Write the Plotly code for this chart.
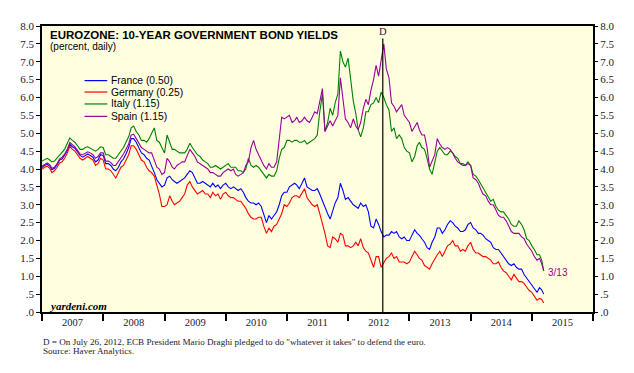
import plotly.graph_objects as go

# ---------------- data (semi-monthly readings, 1st and 16th of each month) ----------------
dates = []
for yr in range(2007, 2016):
    for mo in range(1, 13):
        if yr == 2015 and mo > 3:
            break
        dates.append(f"{yr}-{mo:02d}-01")
        dates.append("2015-03-13" if (yr == 2015 and mo == 3) else f"{yr}-{mo:02d}-16")

france = [
    4.04, 4.10, 4.13, 4.08, 3.98, 4.02, 4.12, 4.25, 4.28, 4.38, 4.52, 4.69, 4.62, 4.58, 4.48, 4.38, 4.33, 4.38, 4.42, 4.38, 4.33, 4.20, 4.25, 4.40,
    4.38, 4.15, 4.15, 4.10, 4.00, 3.95, 4.05, 4.20, 4.28, 4.42, 4.60, 4.85, 4.85, 4.75, 4.60, 4.45, 4.40, 4.30, 4.25, 4.10, 3.90, 3.70, 3.60, 3.50,
    3.55, 3.75, 3.80, 3.70, 3.65, 3.60, 3.65, 3.70, 3.75, 3.85, 3.95, 3.90, 3.75, 3.60, 3.60, 3.65, 3.60, 3.55, 3.50, 3.60, 3.50, 3.55, 3.45, 3.55,
    3.60, 3.50, 3.45, 3.50, 3.45, 3.40, 3.45, 3.35, 3.20, 3.10, 3.05, 3.05, 3.00, 3.05, 2.95, 2.75, 2.50, 2.70, 2.60, 2.70, 2.80, 3.00, 3.25, 3.35,
    3.35, 3.50, 3.55, 3.60, 3.55, 3.45, 3.60, 3.75, 3.50, 3.45, 3.40, 3.40, 3.45, 3.30, 3.10, 2.95, 2.75, 2.60, 2.80, 3.05, 3.20, 3.60, 3.40, 3.15,
    3.20, 3.10, 3.00, 2.95, 2.90, 3.05, 2.95, 3.00, 2.80, 2.40, 2.35, 2.60, 2.45, 2.25, 2.10, 2.15, 2.15, 2.25, 2.20, 2.25, 2.10, 2.05, 2.10, 2.00,
    2.00, 2.15, 2.30, 2.20, 2.15, 2.05, 1.95, 1.80, 1.75, 1.95, 2.10, 2.35, 2.35, 2.20, 2.30, 2.45, 2.55, 2.50, 2.40, 2.35, 2.25, 2.25, 2.30, 2.45,
    2.50, 2.35, 2.30, 2.20, 2.20, 2.15, 2.05, 2.00, 1.95, 1.80, 1.75, 1.75, 1.65, 1.55, 1.45, 1.35, 1.30, 1.35, 1.25, 1.20, 1.20, 1.05, 0.95, 0.85,
    0.75, 0.62, 0.55, 0.68, 0.62, 0.50,
]
germany = [
    3.99, 4.05, 4.08, 4.02, 3.90, 3.95, 4.05, 4.17, 4.20, 4.30, 4.45, 4.64, 4.55, 4.50, 4.40, 4.30, 4.25, 4.30, 4.35, 4.30, 4.25, 4.10, 4.15, 4.30,
    4.25, 4.00, 4.00, 3.95, 3.85, 3.75, 3.90, 4.05, 4.10, 4.25, 4.40, 4.65, 4.65, 4.55, 4.40, 4.25, 4.20, 4.05, 3.95, 3.90, 3.80, 3.55, 3.30, 2.95,
    2.95, 3.00, 3.25, 3.10, 3.00, 3.05, 3.10, 3.20, 3.30, 3.55, 3.65, 3.50, 3.40, 3.30, 3.35, 3.40, 3.30, 3.30, 3.20, 3.35, 3.25, 3.30, 3.15, 3.30,
    3.35, 3.25, 3.20, 3.20, 3.15, 3.10, 3.10, 3.00, 2.90, 2.75, 2.65, 2.60, 2.60, 2.65, 2.65, 2.40, 2.20, 2.35, 2.25, 2.40, 2.45, 2.60, 2.75, 3.00,
    2.95, 3.05, 3.20, 3.25, 3.25, 3.20, 3.35, 3.45, 3.20, 3.10, 3.00, 2.95, 3.00, 2.75, 2.50, 2.20, 1.85, 1.80, 2.10, 2.05, 1.95, 2.20, 2.15, 1.85,
    1.85, 1.80, 1.85, 1.95, 1.85, 2.05, 1.80, 1.70, 1.65, 1.45, 1.25, 1.55, 1.55, 1.25, 1.40, 1.50, 1.55, 1.65, 1.50, 1.55, 1.40, 1.40, 1.40, 1.35,
    1.40, 1.55, 1.70, 1.60, 1.50, 1.45, 1.30, 1.25, 1.20, 1.35, 1.50, 1.60, 1.70, 1.55, 1.70, 1.85, 1.90, 2.00, 1.85, 1.85, 1.70, 1.75, 1.70, 1.85,
    1.95, 1.75, 1.65, 1.65, 1.60, 1.55, 1.55, 1.50, 1.45, 1.35, 1.35, 1.40, 1.25, 1.15, 1.10, 1.00, 0.90, 1.05, 0.95, 0.85, 0.85, 0.80, 0.70, 0.60,
    0.55, 0.45, 0.33, 0.38, 0.35, 0.25,
]
italy = [
    4.22, 4.25, 4.30, 4.25, 4.20, 4.22, 4.30, 4.40, 4.45, 4.55, 4.72, 4.87, 4.80, 4.75, 4.65, 4.55, 4.55, 4.60, 4.62, 4.58, 4.55, 4.50, 4.55, 4.62,
    4.60, 4.40, 4.40, 4.35, 4.30, 4.30, 4.40, 4.50, 4.60, 4.75, 4.90, 5.15, 5.20, 5.05, 4.95, 4.80, 4.80, 4.75, 4.85, 5.00, 5.15, 4.80, 4.75, 4.60,
    4.45, 4.95, 4.75, 4.55, 4.55, 4.50, 4.45, 4.45, 4.45, 4.55, 4.72, 4.60, 4.50, 4.40, 4.35, 4.25, 4.20, 4.15, 4.05, 4.05, 4.10, 4.05, 4.00, 4.05,
    4.10, 4.15, 4.05, 4.05, 4.05, 3.95, 3.95, 3.90, 4.00, 4.30, 4.10, 4.05, 4.10, 4.05, 3.95, 3.85, 3.75, 3.85, 3.80, 3.80, 3.95, 4.30, 4.55, 4.60,
    4.80, 4.80, 4.75, 4.80, 4.80, 4.75, 4.75, 4.80, 4.70, 4.75, 4.80, 4.85, 4.95, 5.60, 6.10, 5.05, 5.30, 5.70, 5.50, 5.85, 6.10, 7.30, 7.00, 6.85,
    7.10, 6.50, 5.90, 5.55, 5.10, 4.90, 5.15, 5.60, 5.60, 5.80, 5.85, 6.00, 5.85, 6.15, 6.00, 5.80, 5.65, 5.05, 5.15, 4.85, 4.95, 4.85, 4.60, 4.50,
    4.45, 4.20, 4.35, 4.65, 4.75, 4.60, 4.55, 4.30, 4.00, 3.85, 4.15, 4.50, 4.60, 4.50, 4.40, 4.40, 4.50, 4.45, 4.35, 4.30, 4.15, 4.15, 4.10, 4.20,
    4.10, 3.85, 3.80, 3.70, 3.60, 3.45, 3.35, 3.25, 3.10, 3.15, 2.95, 2.85, 2.80, 2.80, 2.70, 2.60, 2.45, 2.40, 2.40, 2.55, 2.45, 2.30, 2.05, 2.00,
    1.85, 1.75, 1.60, 1.60, 1.45, 1.15,
]
spain = [
    4.08, 4.12, 4.17, 4.12, 4.02, 4.05, 4.15, 4.28, 4.33, 4.42, 4.55, 4.74, 4.68, 4.62, 4.52, 4.42, 4.40, 4.45, 4.48, 4.45, 4.40, 4.30, 4.35, 4.45,
    4.45, 4.22, 4.22, 4.18, 4.10, 4.10, 4.20, 4.32, 4.42, 4.55, 4.70, 4.95, 4.97, 4.85, 4.72, 4.60, 4.55, 4.50, 4.45, 4.45, 4.25, 4.05, 4.00, 3.85,
    3.90, 4.30, 4.20, 4.05, 4.00, 4.10, 4.15, 4.20, 4.20, 4.35, 4.55, 4.45, 4.35, 4.20, 4.15, 4.10, 4.05, 4.00, 3.90, 3.90, 3.85, 3.80, 3.80, 3.90,
    3.95, 4.00, 3.95, 4.00, 3.85, 3.80, 3.85, 3.90, 4.10, 4.20, 4.60, 4.80, 4.55, 4.40, 4.20, 4.10, 4.00, 4.15, 4.05, 4.05, 4.20, 4.90, 5.45, 5.40,
    5.45, 5.50, 5.30, 5.35, 5.45, 5.30, 5.35, 5.45, 5.35, 5.30, 5.45, 5.60, 5.55, 5.90, 6.25, 5.05, 5.20, 5.35, 5.20, 5.35, 5.50, 6.55, 6.00, 5.40,
    5.30, 5.15, 5.40, 5.20, 5.10, 5.30, 5.70, 5.95, 5.80, 6.20, 6.50, 6.90, 6.60, 7.00, 7.50, 6.80, 6.55, 5.85, 5.75, 5.60, 5.70, 5.80, 5.50, 5.40,
    5.30, 5.05, 5.20, 5.30, 5.10, 4.95, 4.95, 4.60, 4.05, 4.25, 4.40, 4.85, 4.70, 4.60, 4.55, 4.60, 4.55, 4.45, 4.30, 4.20, 4.15, 4.10, 4.10, 4.15,
    4.10, 3.75, 3.70, 3.60, 3.45, 3.30, 3.25, 3.10, 3.00, 3.00, 2.85, 2.70, 2.65, 2.65, 2.55, 2.40, 2.25, 2.20, 2.20, 2.20, 2.10, 2.05, 1.90, 1.80,
    1.70, 1.55, 1.45, 1.50, 1.35, 1.15,
]

series_names = ["France", "Germany", "Italy", "Spain"]
series_values = [france, germany, italy, spain]
series_colors = ["#0000FF", "#FF0000", "#008000", "#990099"]

y_tick_vals = [0, 0.5, 1, 1.5, 2, 2.5, 3, 3.5, 4, 4.5, 5, 5.5, 6, 6.5, 7, 7.5, 8]
y_tick_text = [".0", ".5", "1.0", "1.5", "2.0", "2.5", "3.0", "3.5", "4.0", "4.5",
               "5.0", "5.5", "6.0", "6.5", "7.0", "7.5", "8.0"]

draghi_date = "2012-07-26"
last_label = "3/13"

# ---------------- figure ----------------
# page body has an 8px default margin; plot area is placed at page x 41..598, y 24..312
BODY = 8
PAGE_L, PAGE_T, PW, PH = 41, 24, 557, 288
ML, MT = PAGE_L - BODY, PAGE_T - BODY
W, H = 618, 357
MR, MB = W - ML - PW, H - MT - PH


def px(xp):  # page x -> paper fraction
    return (xp - PAGE_L) / PW


def py(yp):  # page y -> paper fraction
    return 1 - (yp - PAGE_T) / PH


fig = go.Figure()
for name, vals, col in zip(series_names, series_values, series_colors):
    assert len(vals) == len(dates), (name, len(vals), len(dates))
    fig.add_trace(go.Scatter(
        x=dates, y=vals, mode="lines", name=name,
        line=dict(color=col, width=1.1),
        yaxis="y2" if name == "Spain" else "y",
        showlegend=False, hoverinfo="x+y+name",
    ))

serif = "Liberation Serif, Times New Roman, serif"
sans = "Liberation Sans, Arial, sans-serif"
tickfont = dict(family=serif, size=11, color="#1a1a2a")

fig.update_layout(
    width=W, height=H, autosize=False,
    margin=dict(l=ML, r=MR, t=MT, b=MB, pad=0),
    paper_bgcolor="white", plot_bgcolor="#FFFFE0",
    showlegend=False,
    xaxis=dict(
        type="date", range=["2007-01-01", "2016-01-01"],
        tick0="2007-01-01", dtick="M12", ticklabelmode="period", tickformat="%Y",
        ticks="outside", ticklen=7, tickwidth=1.5, tickcolor="black",
        ticklabelstandoff=-7,
        showline=True, linecolor="black", linewidth=1.5, mirror=True,
        showgrid=False, zeroline=False, tickfont=dict(family=serif, size=10.5, color="#1a1a2a"),
    ),
    yaxis=dict(
        range=[0, 8], tickvals=y_tick_vals, ticktext=y_tick_text,
        ticks="outside", ticklen=4, tickcolor="black",
        showline=True, linecolor="black", linewidth=1.5, mirror=True,
        showgrid=False, zeroline=False, tickfont=tickfont,
    ),
    yaxis2=dict(
        range=[0, 8], tickvals=y_tick_vals, ticktext=y_tick_text,
        overlaying="y", side="right",
        ticks="outside", ticklen=4, tickcolor="black",
        showline=False, showgrid=False, zeroline=False, tickfont=tickfont,
    ),
)

annotations = [
    dict(text="<b>EUROZONE: 10-YEAR GOVERNMENT BOND YIELDS</b>", x=px(47), y=py(33),
         font=dict(family=sans, size=11.5, color="black")),
    dict(text="(percent, daily)", x=px(47), y=py(45),
         font=dict(family=sans, size=10, color="black")),
    dict(text="<b><i>yardeni.com</i></b>", x=px(46), y=py(306),
         font=dict(family=serif, size=11, color="black")),
    dict(text='D = On July 26, 2012, ECB President Mario Draghi pledged to do "whatever it takes" to defend the euro.',
         x=px(40), y=py(342), font=dict(family=serif, size=9.1, color="#1a1a2a")),
    dict(text="Source: Haver Analytics.", x=px(40), y=py(351),
         font=dict(family=serif, size=9.1, color="#1a1a2a")),
]
for a in annotations:
    a.update(xref="paper", yref="paper", xanchor="left", yanchor="middle", showarrow=False)

# legend (manual, tight spacing as in the original)
legend_rows = [79, 90.5, 102.5, 115]
shapes = []
for name, vals, col, yr in zip(series_names, series_values, series_colors, legend_rows):
    annotations.append(dict(text=f"{name} ({vals[-1]:.2f})", x=px(109), y=py(yr),
                            xref="paper", yref="paper", xanchor="left", yanchor="middle",
                            showarrow=False, font=dict(family=sans, size=10.3, color="black")))
    shapes.append(dict(type="line", xref="paper", yref="paper", x0=px(84), x1=px(107),
                       y0=py(yr), y1=py(yr), line=dict(color=col, width=1.2)))

# Draghi line and D label
shapes.append(dict(type="line", xref="x", yref="y", x0=draghi_date, x1=draghi_date,
                   y0=0, y1=7.65, line=dict(color="black", width=1.2)))
annotations.append(dict(text="D", x=draghi_date, y=7.85, xref="x", yref="y",
                        showarrow=False, xanchor="center", yanchor="middle",
                        font=dict(family=serif, size=10.5, color="#1a1a2a")))
annotations.append(dict(text=last_label, x=dates[-1], y=spain[-1] - 0.05, xref="x", yref="y",
                        showarrow=False, xanchor="left", yanchor="middle", xshift=2,
                        font=dict(family=sans, size=10, color="#990099")))

fig.update_layout(annotations=annotations, shapes=shapes)
fig.write_html("out.html")
